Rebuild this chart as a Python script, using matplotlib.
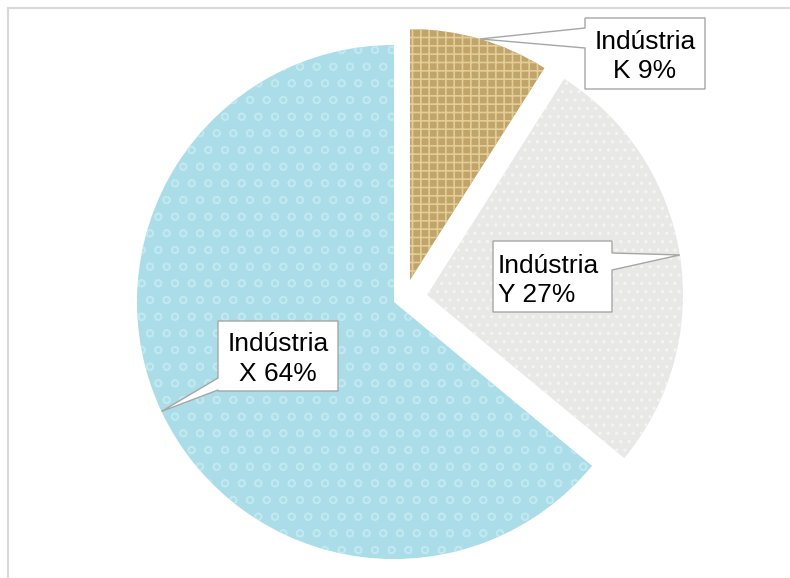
import matplotlib.pyplot as plt
import numpy as np
from matplotlib.patches import Polygon
from matplotlib.lines import Line2D

plt.rcParams['font.family'] = ['Liberation Sans', 'DejaVu Sans']
plt.rcParams['hatch.linewidth'] = 1.2

# data
categories = ['K', 'Y', 'X']
values = [9, 27, 64]
label_prefix = 'Indústria'

# looks
colors = ['#c1a46a', '#e8e8e6', '#aadde8']
hatch_colors = ['#e2cd96', '#f4f4f2', '#bfe8f0']
hatches = ['++', '..', 'o']
# how far each slice is pulled out, in pixels (dx, dy from top left)
pull = {'K': (16, -22), 'Y': (33, -7), 'X': (0, 0)}
radius_px = {'K': 251, 'Y': 256, 'X': 257}

W, H = 790, 578
R = 257.0          # pie radius in pixels
CX, CY = 394, 302  # pie centre in pixels (from top left)


def px(x, y):
    # pixel position -> data units (radius = 1)
    return ((x - CX) / R, (CY - y) / R)


fig = plt.figure(figsize=(W / 100, H / 100), dpi=100)
ax = fig.add_axes([0, 0, 1, 1])

wedges, _ = ax.pie(values, startangle=90, counterclock=False,
                   colors=colors, radius=1.0, center=(0, 0), frame=False)
ax.set_xlim(px(0, 0)[0], px(W, 0)[0])
ax.set_ylim(px(0, H)[1], px(0, 0)[1])
ax.set_aspect('auto')
ax.axis('off')

for w, cat, hc, h in zip(wedges, categories, hatch_colors, hatches):
    dx, dy = pull[cat]
    w.set_center(px(CX + dx, CY + dy))
    w.set_radius(radius_px[cat] / R)
    w.set_hatch(h)
    w.set_edgecolor(hc)
    w.set_linewidth(0)

# callout boxes: (x0, y0, x1, y1) in pixels, side with pointer, pointer base
boxes = {
    'K': dict(box=(585, 18, 705, 89), side='left', base=(28, 48), ha='center'),
    'Y': dict(box=(493, 241, 612, 312), side='right', base=(253, 270), ha='left'),
    'X': dict(box=(218, 321, 338, 391), side='left', base=(378, 390), ha='center'),
}

for w, cat, val in zip(wedges, categories, values):
    # pointer tip at the middle of the wedge's arc
    thm = np.deg2rad(0.5 * (w.theta1 + w.theta2))
    cx, cy = w.center
    tip = (cx + w.r * np.cos(thm), cy + w.r * np.sin(thm))

    b = boxes[cat]
    x0, y0, x1, y1 = b['box']
    ba, bb = b['base']
    if b['side'] == 'left':
        pts = [px(x0, y0), px(x1, y0), px(x1, y1), px(x0, y1),
               px(x0, bb), tip, px(x0, ba)]
    else:
        pts = [px(x0, y0), px(x1, y0), px(x1, ba), tip,
               px(x1, bb), px(x1, y1), px(x0, y1)]
    ax.add_patch(Polygon(pts, closed=True, facecolor='white',
                         edgecolor='#a6a6a6', linewidth=1.0, zorder=5))

    text = f'{label_prefix}\n{cat} {val}%'
    if b['ha'] == 'center':
        tx, ty = px((x0 + x1) / 2, (y0 + y1) / 2 + 3)
    else:
        tx, ty = px(x0 + 5, (y0 + y1) / 2 + 4)
    ax.text(tx, ty, text, ha=b['ha'], va='center', multialignment=b['ha'],
            fontsize=19, color='#000000', linespacing=1.3, zorder=6)

# chart area frame (only left and top edges are inside the picture)
fig.add_artist(Line2D([8 / W, 8 / W], [0, 1 - 8 / H], transform=fig.transFigure,
                      color='#d9d9d9', linewidth=1.5))
fig.add_artist(Line2D([8 / W, 1], [1 - 8 / H, 1 - 8 / H], transform=fig.transFigure,
                      color='#d9d9d9', linewidth=1.5))

fig.savefig('out.png', dpi=100, facecolor='white')
